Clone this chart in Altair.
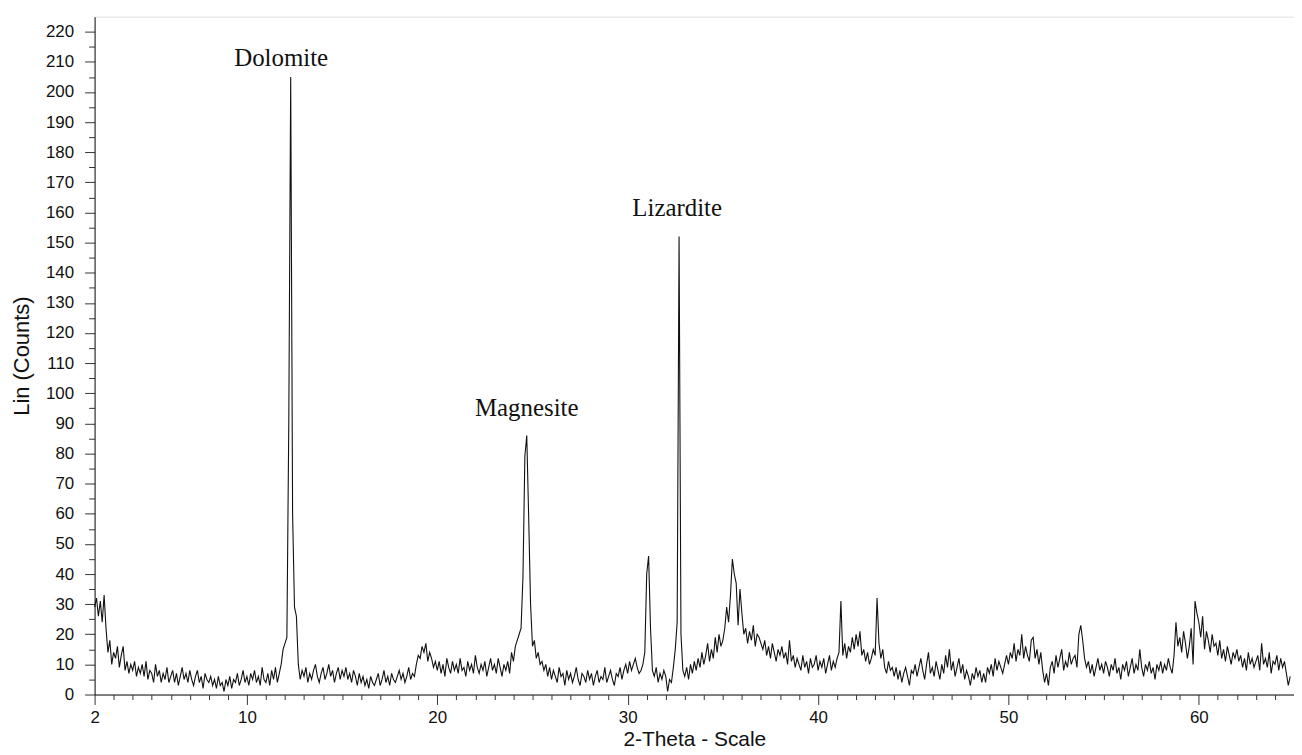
import altair as alt
import pandas as pd

# Scan grid: 2.0 .. 64.8 deg 2-theta, step 0.1 ; counts, one list per degree
start_angle = 2.0
step = 0.1
c02 = [29, 32, 26, 31, 24, 33, 22, 14, 18, 10]
c03 = [14, 12, 16, 9, 13, 16, 8, 11, 7, 10]
c04 = [8, 11, 6, 9, 7, 10, 6, 11, 5, 8]
c05 = [7, 4, 10, 6, 8, 4, 7, 5, 9, 4]
c06 = [6, 8, 4, 7, 3, 6, 9, 5, 7, 4]
c07 = [8, 5, 3, 6, 8, 4, 6, 2, 7, 5]
c08 = [4, 6, 3, 5, 2, 6, 3, 4, 1, 5]
c09 = [3, 6, 2, 5, 4, 7, 3, 5, 8, 4]
c10 = [6, 3, 7, 5, 8, 4, 6, 3, 9, 5]
c11 = [4, 7, 3, 8, 5, 9, 4, 7, 10, 15]
c12 = [17, 19, 90, 205, 60, 29, 26, 10, 5, 8]
c13 = [6, 9, 4, 7, 5, 8, 10, 6, 4, 7]
c14 = [9, 5, 7, 10, 6, 8, 4, 7, 9, 5]
c15 = [8, 6, 9, 5, 7, 4, 8, 6, 3, 7]
c16 = [4, 6, 3, 5, 2, 6, 4, 3, 5, 7]
c17 = [3, 5, 8, 4, 6, 3, 7, 5, 4, 6]
c18 = [8, 5, 7, 4, 6, 9, 5, 7, 6, 10]
c19 = [13, 12, 16, 14, 17, 11, 14, 12, 9, 11]
c20 = [8, 11, 7, 10, 6, 12, 9, 7, 11, 8]
c21 = [10, 7, 12, 8, 9, 6, 11, 8, 10, 7]
c22 = [13, 9, 7, 10, 8, 11, 6, 9, 12, 8]
c23 = [10, 7, 12, 9, 6, 10, 8, 11, 7, 14]
c24 = [11, 16, 18, 20, 22, 39, 79, 86, 59, 30]
c25 = [16, 18, 12, 14, 10, 11, 8, 10, 6, 9]
c26 = [5, 8, 6, 4, 9, 6, 7, 3, 8, 5]
c27 = [7, 4, 6, 9, 5, 3, 7, 6, 4, 8]
c28 = [5, 7, 3, 6, 8, 4, 6, 5, 9, 4]
c29 = [6, 8, 5, 3, 7, 6, 9, 5, 8, 10]
c30 = [7, 11, 8, 10, 12, 9, 7, 8, 10, 14]
c31 = [40, 46, 22, 8, 6, 9, 4, 7, 5, 8]
c32 = [6, 1, 5, 4, 9, 15, 24, 152, 20, 8]
c33 = [6, 9, 5, 10, 7, 11, 8, 12, 9, 14]
c34 = [10, 13, 17, 11, 15, 12, 19, 14, 20, 16]
c35 = [18, 22, 29, 24, 33, 45, 40, 37, 23, 35]
c36 = [27, 20, 22, 17, 21, 18, 23, 16, 20, 19]
c37 = [17, 15, 18, 13, 16, 12, 17, 14, 11, 15]
c38 = [13, 16, 12, 14, 10, 18, 11, 13, 9, 12]
c39 = [10, 8, 13, 9, 11, 7, 12, 9, 10, 13]
c40 = [8, 11, 9, 12, 7, 10, 13, 8, 11, 9]
c41 = [12, 14, 31, 13, 17, 12, 16, 14, 19, 15]
c42 = [20, 16, 21, 13, 15, 11, 14, 10, 12, 15]
c43 = [13, 32, 17, 12, 15, 9, 7, 11, 8, 9]
c44 = [6, 9, 5, 8, 4, 7, 9, 6, 3, 8]
c45 = [7, 10, 6, 9, 12, 8, 5, 10, 14, 7]
c46 = [9, 6, 11, 8, 5, 10, 7, 13, 9, 15]
c47 = [8, 11, 6, 9, 12, 7, 10, 5, 8, 6]
c48 = [3, 7, 5, 9, 6, 8, 4, 7, 4, 9]
c49 = [7, 10, 6, 12, 8, 11, 9, 7, 10, 13]
c50 = [10, 14, 12, 17, 11, 15, 13, 20, 12, 16]
c51 = [13, 11, 18, 19, 12, 15, 10, 14, 8, 4]
c52 = [7, 3, 9, 11, 7, 13, 9, 12, 15, 8]
c53 = [11, 9, 14, 10, 12, 13, 9, 20, 23, 18]
c54 = [12, 9, 11, 7, 10, 6, 9, 12, 8, 10]
c55 = [7, 11, 9, 6, 10, 8, 12, 7, 9, 5]
c56 = [10, 8, 11, 6, 9, 12, 7, 10, 8, 15]
c57 = [9, 6, 10, 8, 11, 7, 9, 5, 10, 8]
c58 = [11, 7, 10, 8, 12, 9, 7, 13, 24, 16]
c59 = [19, 14, 21, 17, 12, 16, 22, 10, 31, 27]
c60 = [24, 19, 26, 15, 21, 18, 14, 20, 16, 17]
c61 = [13, 18, 12, 15, 11, 16, 13, 10, 14, 12]
c62 = [15, 11, 13, 9, 12, 8, 14, 10, 12, 9]
c63 = [11, 13, 8, 17, 10, 12, 9, 14, 7, 11]
c64 = [10, 13, 8, 12, 9, 11, 7, 3, 6]

counts = (c02 + c03 + c04 + c05 + c06 + c07 + c08 + c09 + c10 + c11 + c12 + c13 + c14
          + c15 + c16 + c17 + c18 + c19 + c20 + c21 + c22 + c23 + c24 + c25 + c26 + c27
          + c28 + c29 + c30 + c31 + c32 + c33 + c34 + c35 + c36 + c37 + c38 + c39 + c40
          + c41 + c42 + c43 + c44 + c45 + c46 + c47 + c48 + c49 + c50 + c51 + c52 + c53
          + c54 + c55 + c56 + c57 + c58 + c59 + c60 + c61 + c62 + c63 + c64)
angles = [round(start_angle + step * i, 2) for i in range(len(counts))]

mineral_names = ["Dolomite", "Magnesite", "Lizardite"]
mineral_angle = [11.8, 24.7, 32.6]
mineral_count = [208.5, 92.3, 158.7]

x_major = [2, 10, 20, 30, 40, 50, 60]
x_minor = [v for v in range(2, 65) if v not in x_major]
y_major = list(range(0, 221, 10))
y_minor = list(range(5, 221, 10))

df = pd.DataFrame({"theta": angles, "counts": counts})
labels = pd.DataFrame({"name": mineral_names, "theta": mineral_angle, "counts": mineral_count})

x_scale = alt.Scale(domain=[2, 65], nice=False, zero=False)
y_scale = alt.Scale(domain=[0, 225], nice=False)

FONT = "Liberation Sans"
INK = "#111"

x_axis_major = alt.Axis(
    orient="bottom", values=x_major, tickSize=10, labelPadding=5, titlePadding=3,
    labelFont=FONT, labelFontSize=17, labelColor=INK, labelFlush=False, labelOverlap=False,
    titleFont=FONT, titleFontSize=21, titleFontWeight="normal", titleColor=INK,
    domainColor=INK, tickColor="#333", grid=False,
)
x_axis_minor = alt.Axis(
    orient="bottom", values=x_minor, tickSize=5, labels=False, domain=False, title=None,
    tickColor="#333", grid=False,
)
y_axis_major = alt.Axis(
    orient="left", values=y_major, tickSize=10, labelPadding=11, titlePadding=12,
    labelFont=FONT, labelFontSize=17, labelColor=INK, labelFlush=False, labelOverlap=False,
    titleFont=FONT, titleFontSize=22, titleFontWeight="normal", titleColor=INK,
    domainColor=INK, tickColor="#333", grid=False,
)
y_axis_minor = alt.Axis(
    orient="left", values=y_minor, tickSize=6, labels=False, domain=False, title=None,
    tickColor="#333", grid=False,
)

line = alt.Chart(df).mark_line(color=INK, strokeWidth=1.1, interpolate="linear").encode(
    x=alt.X("theta:Q", scale=x_scale, axis=x_axis_major, title="2-Theta - Scale"),
    y=alt.Y("counts:Q", scale=y_scale, axis=y_axis_major, title="Lin (Counts)"),
)

text = alt.Chart(labels).mark_text(
    font="Liberation Serif", fontSize=25, color=INK, align="center", baseline="alphabetic"
).encode(
    x=alt.X("theta:Q", scale=x_scale, axis=x_axis_minor),
    y=alt.Y("counts:Q", scale=y_scale, axis=y_axis_minor),
    text="name:N",
)

chart = alt.layer(line, text).resolve_axis(x="independent", y="independent").properties(
    width=1205, height=681,
    autosize=alt.AutoSizeParams(type="none"),
    padding={"left": 87, "top": 7, "right": 0, "bottom": 56},
).configure_view(stroke=None).configure(background="white")

chart.save("out.html", embed_options={"renderer": "svg", "actions": False})
